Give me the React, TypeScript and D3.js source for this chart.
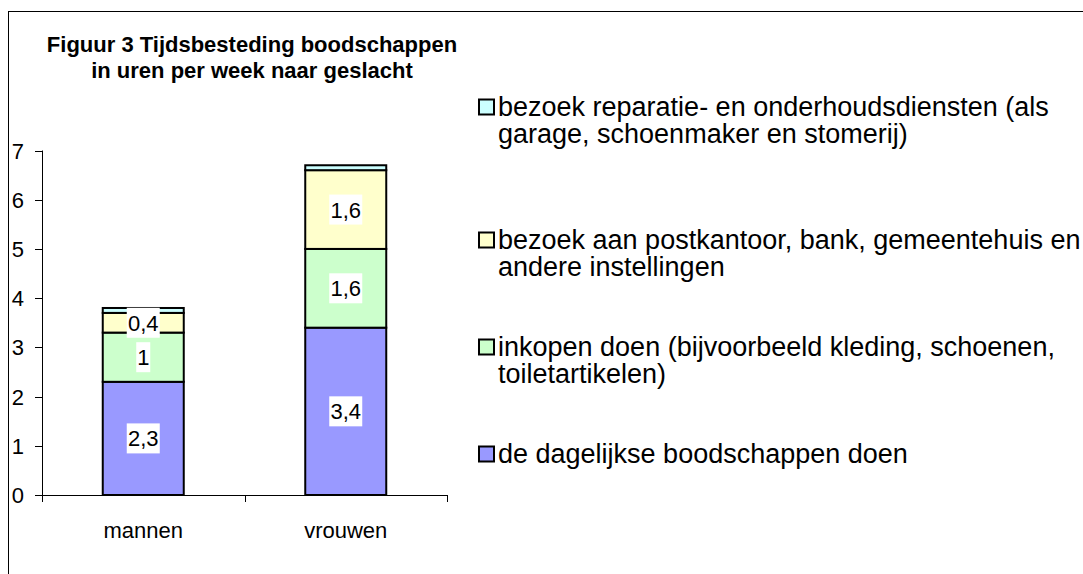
import React from "react";
import * as d3 from "d3";

const categories = ["mannen", "vrouwen"];
const dagelijks = [2.3, 3.4];
const inkopen = [1, 1.6];
const postkantoor = [0.4, 1.6];
const reparatie = [0.1, 0.1];
const yTicks = [0, 1, 2, 3, 4, 5, 6, 7];
const titleLines = ["Figuur 3 Tijdsbesteding boodschappen", "in uren per week naar geslacht"];
const legendItems = [
  { lines: ["bezoek reparatie- en onderhoudsdiensten (als", "garage, schoenmaker en stomerij)"], color: "#CCFFFF" },
  { lines: ["bezoek aan postkantoor, bank, gemeentehuis en", "andere instellingen"], color: "#FFFFCC" },
  { lines: ["inkopen doen (bijvoorbeeld kleding, schoenen,", "toiletartikelen)"], color: "#CCFFCC" },
  { lines: ["de dagelijkse boodschappen doen"], color: "#9999FF" },
];

const series = [
  { values: dagelijks, color: "#9999FF", label: true },
  { values: inkopen, color: "#CCFFCC", label: true },
  { values: postkantoor, color: "#FFFFCC", label: true },
  { values: reparatie, color: "#CCFFFF", label: false },
];

const FONT = "Arial, 'Liberation Sans', sans-serif";

export default function App() {
  const W = 1083, H = 574;
  const x = d3.scaleBand<string>().domain(categories).range([42, 447]).paddingInner(0.6).paddingOuter(0.3);
  const y = d3.scaleLinear().domain([0, 7]).range([495, 150.5]);
  const fmt = (v: number) => String(v).replace(".", ",");

  const stacks = categories.map((c, ci) => {
    let acc = 0;
    return series.map((s) => {
      const y0 = acc;
      acc += s.values[ci];
      return { c, y0, y1: acc, v: s.values[ci], color: s.color, label: s.label };
    });
  });

  const legendY = [107, 240, 347, 454];

  return (
    <svg width={W} height={H} style={{ position: "absolute", left: 0, top: 0, background: "#fff" }} fontFamily={FONT}>
      <rect x={8.5} y={11.5} width={W + 20} height={H + 20} fill="#fff" stroke="#000" strokeWidth={1} />
      {titleLines.map((t, i) => (
        <text key={i} x={252} y={52 + i * 26} textAnchor="middle" fontWeight="bold" fontSize={22} fill="#000">{t}</text>
      ))}
      {/* y axis */}
      <line x1={42.5} x2={42.5} y1={y(7)} y2={y(0)} stroke="#000" />
      {yTicks.map((t) => (
        <g key={t}>
          <line x1={35} x2={42.5} y1={Math.round(y(t)) + 0.5} y2={Math.round(y(t)) + 0.5} stroke="#000" />
          <text x={24} y={y(t) + 8} textAnchor="end" fontSize={22} fill="#000">{t}</text>
        </g>
      ))}
      {/* x axis */}
      <line x1={42} x2={447.5} y1={495.5} y2={495.5} stroke="#000" />
      {[42, 42 + x.step(), 42 + 2 * x.step()].map((tx, i) => (
        <line key={i} x1={Math.round(tx) + 0.5} x2={Math.round(tx) + 0.5} y1={495} y2={502} stroke="#000" />
      ))}
      {categories.map((c) => (
        <text key={c} x={(x(c) as number) + x.bandwidth() / 2} y={538} textAnchor="middle" fontSize={22} fill="#000">{c}</text>
      ))}
      {/* bars */}
      {stacks.map((st, ci) => (
        <g key={ci}>
          {st.map((s, si) => (
            <rect key={si} x={x(s.c)} y={y(s.y1)} width={x.bandwidth()} height={y(s.y0) - y(s.y1)} fill={s.color} stroke="#000" strokeWidth={2} />
          ))}
        </g>
      ))}
      {stacks.map((st, ci) => (
        <g key={"l" + ci}>
          {st.filter((s) => s.label).map((s, si) => {
            const cx = (x(s.c) as number) + x.bandwidth() / 2;
            const cy = y((s.y0 + s.y1) / 2);
            const txt = fmt(s.v);
            const w = txt.length === 1 ? 14 : 33;
            return (
              <g key={si}>
                <rect x={cx - w / 2} y={cy - 15} width={w} height={30} fill="#fff" />
                <text x={cx} y={cy + 8} textAnchor="middle" fontSize={22} fill="#000">{txt}</text>
              </g>
            );
          })}
        </g>
      ))}
      {/* legend */}
      {legendItems.map((it, i) => (
        <g key={i}>
          <rect x={479} y={legendY[i] - 7.5} width={15} height={15} fill={it.color} stroke="#000" strokeWidth={2} />
          {it.lines.map((ln, li) => (
            <text key={li} x={498} y={legendY[i] + 9 + li * 27} fontSize={27} fill="#000">{ln}</text>
          ))}
        </g>
      ))}
    </svg>
  );
}
